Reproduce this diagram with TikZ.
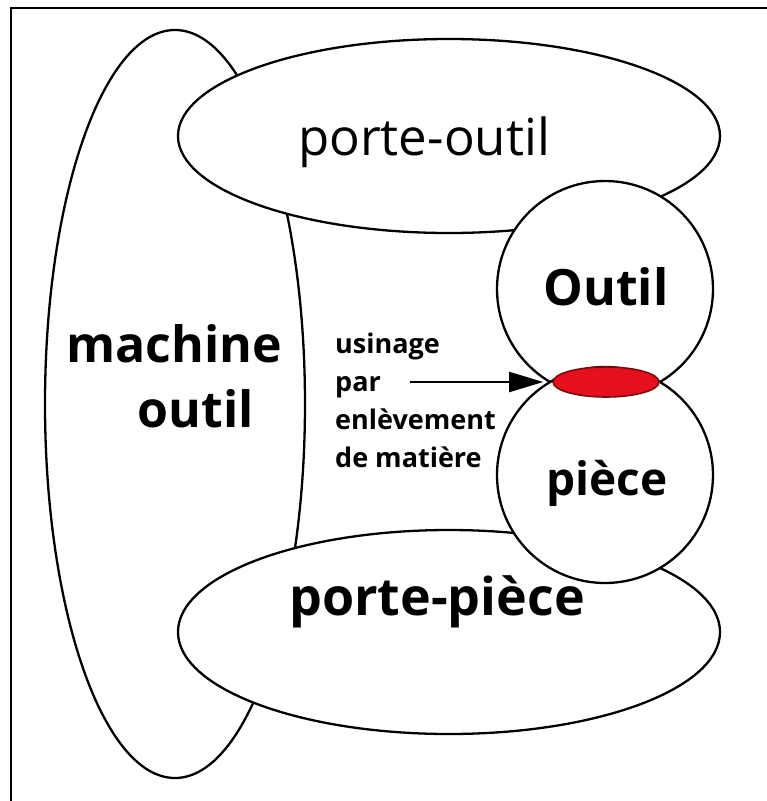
\documentclass[tikz,border=0pt]{standalone}
\usepackage{fontspec}
\setmainfont{Open Sans}
\usetikzlibrary{shapes.geometric,arrows.meta}

\definecolor{contactred}{HTML}{E5101C}
\definecolor{contactedge}{HTML}{7A0A10}

\begin{document}
\begin{tikzpicture}[x=1pt,y=-1pt,
  blob/.style={ellipse, draw=black, line width=2.3pt, fill=white, inner sep=0pt},
  disc/.style={circle, draw=black, line width=2.3pt, fill=white, inner sep=0pt, minimum size=216pt},
  bigbold/.style={font=\bfseries\fontsize{#1}{56}\selectfont, inner sep=0pt, anchor=base},
  bigbold/.default=50,
  smallbold/.style={font=\bfseries\fontsize{27}{38}\selectfont, inner sep=0pt, align=left, anchor=base west},
  pointer/.style={-{Triangle[length=34pt,width=20pt]}, line width=2pt, shorten >=9pt}]

\useasboundingbox (0,0) rectangle (767,801);
\clip (0,0) rectangle (767,801);

% frame (only its top and left sides fall inside the page)
\draw[line width=2.6pt] (11,8) rectangle (800,840);

% supporting elements
\node[blob, minimum width=260pt, minimum height=748pt] (machine) at (175,404) {};
\node[blob, minimum width=542pt, minimum height=194pt] (porteoutil) at (449,136) {};
\node[blob, minimum width=542pt, minimum height=204pt] (portepiece) at (449,632) {};

% tool and workpiece
\node[disc] (outil) at (605,289) {};
\node[disc] (piece) at (605,475) {};

% contact zone
\node[ellipse, draw=contactedge, line width=1.6pt, fill=contactred, inner sep=0pt,
      minimum width=106pt, minimum height=30pt] (contact) at (606,382) {};

% labels
\node[font=\fontsize{51}{60}\selectfont, inner sep=0pt, anchor=base] (tporteoutil) at (424,155) {porte-outil};
\node[bigbold=50] (tmachine) at (174,362) {machine};
\node[bigbold=50] (toutilm) at (196,427) {outil};
\node[bigbold=50] (toutil) at (606,305) {Outil};
\node[bigbold=46] (tpiece) at (607,495) {pièce};
\node[bigbold=52] (tportepiece) at (437,615) {porte-pièce};
\node[smallbold] (tusinage) at (335,467) {usinage\\par\\enlèvement\\de matière};

% arrow pointing to the contact zone
\coordinate (arrowtail) at (410,382);
\draw[pointer] (arrowtail) -- (contact.west);
\end{tikzpicture}
\end{document}
